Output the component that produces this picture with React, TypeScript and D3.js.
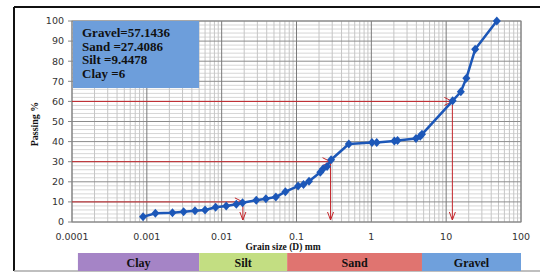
import * as d3 from "d3"

// grain size distribution (D in mm, % passing)
const grainSize = [
  0.00089, 0.0013, 0.0022, 0.0031, 0.0044, 0.006, 0.0083, 0.0115, 0.0157, 0.019, 0.029, 0.039,
  0.053, 0.071, 0.105, 0.124, 0.147, 0.208, 0.227, 0.256, 0.29, 0.5, 1.02, 1.18, 2.03, 2.24,
  3.95, 4.5, 4.75, 12.2, 15.7, 18.6, 24.4, 47.5,
]
const passing = [
  2.6, 4.3, 4.6, 5.1, 5.6, 6.0, 7.3, 8.0, 8.8, 9.6, 10.8, 11.6, 12.4, 15.1, 17.9, 18.6, 20.3, 24.8,
  26.5, 27.6, 31.0, 38.8, 39.5, 39.5, 40.3, 40.5, 41.6, 42.6, 43.6, 60.3, 64.8, 71.5, 85.9, 100,
]

// D10 / D30 / D60 guide lines
const guidePercent = [10, 30, 60]
const guideSize = [0.0192, 0.285, 12.1]

const xTicks = [0.0001, 0.001, 0.01, 0.1, 1, 10, 100]
const xTickLabels = ["0.0001", "0.001", "0.01", "0.1", "1", "10", "100"]
const yTicks = [0, 10, 20, 30, 40, 50, 60, 70, 80, 90, 100]

const bandNames = ["Clay", "Silt", "Sand", "Gravel"]
const bandEdges = [0.00012, 0.005, 0.075, 4.75, 100]
const bandColors = ["#a584c6", "#c3de82", "#e07470", "#6fa0dc"]

const summary = ["Gravel=57.1436", "Sand =27.4086", "Silt =9.4478", "Clay =6"]

const W = 540
const H = 273
const plot = { left: 72, right: 521, top: 21, bottom: 222 }

export default function App() {
  const x = d3.scaleLog().domain([0.0001, 100]).range([plot.left, plot.right])
  const y = d3.scaleLinear().domain([0, 100]).range([plot.bottom, plot.top])

  const minorX: number[] = []
  for (let e = -4; e < 2; e++) {
    for (let k = 2; k <= 9; k++) minorX.push(k * Math.pow(10, e))
  }
  const minorY = d3.range(0, 101, 2).filter((v) => v % 10 !== 0)

  const pts = grainSize.map((d, i) => [x(d), y(passing[i])] as [number, number])
  const line = d3.line()(pts) ?? ""
  const serif = "'Liberation Serif', 'Times New Roman', serif"
  const sans = "'DejaVu Sans', Verdana, sans-serif"
  const red = "#c4262b"

  return (
    <svg
      width={W}
      height={H}
      style={{ position: "absolute", left: 0, top: 0, background: "#fff" }}
    >
      {/* outer frame */}
      <line x1={14} x2={14} y1={7} y2={271} stroke="#111" strokeWidth={2} />
      <line x1={14} x2={W} y1={7} y2={7} stroke="#111" strokeWidth={2} />
      <line x1={14} x2={W} y1={271} y2={271} stroke="#aaa" strokeWidth={1.5} />

      {/* grid */}
      {minorY.map((v) => (
        <line key={"my" + v} x1={plot.left} x2={plot.right} y1={y(v)} y2={y(v)} stroke="#d6d6d6" strokeWidth={1} />
      ))}
      {minorX.map((v) => (
        <line key={"mx" + v} x1={x(v)} x2={x(v)} y1={plot.top} y2={plot.bottom} stroke="#c6c6c6" strokeWidth={1} />
      ))}
      {yTicks.map((v) => (
        <line key={"gy" + v} x1={plot.left} x2={plot.right} y1={y(v)} y2={y(v)} stroke="#8c8c8c" strokeWidth={1} />
      ))}
      {xTicks.map((v) => (
        <line key={"gx" + v} x1={x(v)} x2={x(v)} y1={plot.top} y2={plot.bottom} stroke="#7a7a7a" strokeWidth={1} />
      ))}
      <rect
        x={plot.left}
        y={plot.top}
        width={plot.right - plot.left}
        height={plot.bottom - plot.top}
        fill="none"
        stroke="#888"
      />

      {/* y ticks */}
      {yTicks.map((v) => (
        <g key={"yt" + v}>
          <line x1={plot.left - 4} x2={plot.left} y1={y(v)} y2={y(v)} stroke="#888" />
          <text x={plot.left - 8} y={y(v)} dy="0.35em" textAnchor="end" fontFamily={sans} fontSize={9.5} fill="#333">
            {v}
          </text>
        </g>
      ))}
      {xTicks.map((v, i) => (
        <text key={"xt" + v} x={x(v)} y={239.5} textAnchor="middle" fontFamily={sans} fontSize={9.5} fill="#333">
          {xTickLabels[i]}
        </text>
      ))}

      <text
        transform={`translate(38,124) rotate(-90)`}
        textAnchor="middle"
        fontFamily={serif}
        fontWeight="bold"
        fontSize={10}
        fill="#111"
      >
        Passing %
      </text>
      <text x={283} y={250} textAnchor="middle" fontFamily={serif} fontWeight="bold" fontSize={9.5} fill="#111">
        Grain size (D) mm
      </text>

      {/* summary box */}
      <rect x={73} y={21} width={126} height={67} fill="#6d9edb" />
      {summary.map((s, i) => (
        <text key={s} x={82} y={37 + i * 13.7} fontFamily={serif} fontWeight="bold" fontSize={13} fill="#111">
          {s}
        </text>
      ))}

      {/* guide lines */}
      {guidePercent.map((p, i) => {
        const gx = x(guideSize[i])
        const gy = y(p)
        return (
          <g key={"g" + p} stroke={red} strokeWidth={1} fill="none">
            <line x1={plot.left} x2={gx} y1={gy} y2={gy} />
            <polyline points={`${gx - 8},${gy - 4} ${gx},${gy} ${gx - 8},${gy + 4}`} />
            <line x1={gx} x2={gx} y1={gy} y2={plot.bottom - 2} />
            <polyline points={`${gx - 3},${plot.bottom - 10} ${gx},${plot.bottom - 2} ${gx + 3},${plot.bottom - 10}`} />
          </g>
        )
      })}

      {/* curve */}
      <path d={line} fill="none" stroke="#1c57b8" strokeWidth={2.5} strokeLinejoin="round" />
      {pts.map(([px, py], i) => (
        <path
          key={"p" + i}
          d={`M${px},${py - 4.5}L${px + 4},${py}L${px},${py + 4.5}L${px - 4},${py}Z`}
          fill="#1c57b8"
        />
      ))}

      {/* soil class band */}
      {bandNames.map((n, i) => {
        const x0 = x(bandEdges[i])
        const x1 = x(bandEdges[i + 1])
        return (
          <g key={n}>
            <rect x={x0} y={253} width={x1 - x0} height={18} fill={bandColors[i]} />
            <text
              x={(x0 + x1) / 2}
              y={267}
              textAnchor="middle"
              fontFamily={serif}
              fontWeight="bold"
              fontSize={12}
              fill="#111"
            >
              {n}
            </text>
          </g>
        )
      })}
    </svg>
  )
}
